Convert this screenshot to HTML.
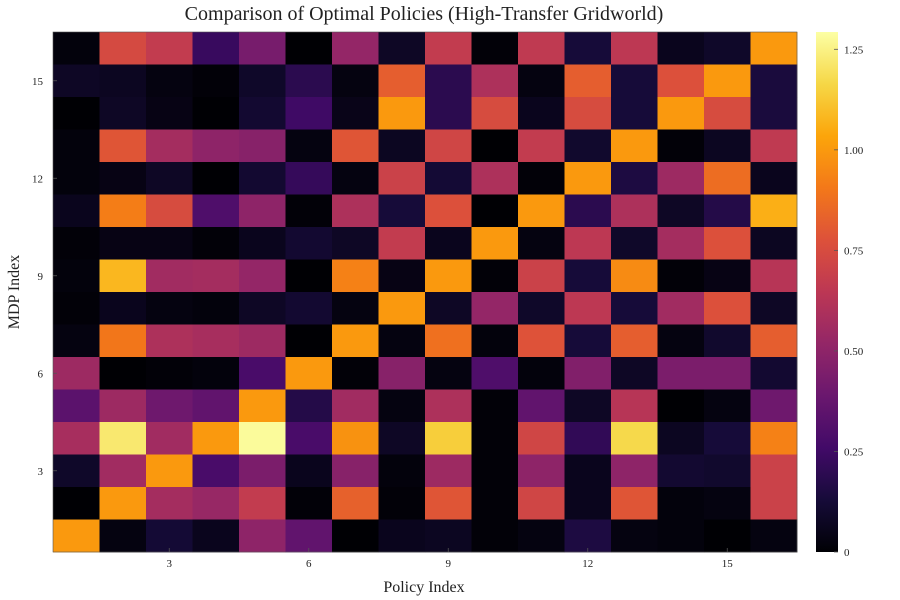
<!DOCTYPE html>
<html><head><meta charset="utf-8"><style>
html,body{margin:0;padding:0;background:#fff;}
svg{display:block;font-family:"Liberation Serif",serif;}
</style></head><body>
<svg id="chart" width="900" height="600" viewBox="0 0 900 600" xmlns="http://www.w3.org/2000/svg">
<defs><linearGradient id="cbg" x1="0" y1="1" x2="0" y2="0"></linearGradient></defs>
<text x="424" y="20" font-size="20" text-anchor="middle" fill="#222">Comparison of Optimal Policies (High-Transfer Gridworld)</text>
<text x="424" y="592" font-size="16" text-anchor="middle" fill="#222">Policy Index</text>
<text transform="translate(19,292) rotate(-90)" font-size="16" text-anchor="middle" fill="#222">MDP Index</text>
<g id="cells"></g>
<g id="axes"></g>
<g id="cbar"></g>
</svg>
<script>
// rows listed from MDP 16 (top) down to MDP 1 (bottom); columns = policy 1..16
const row16=[0.02,0.74,0.67,0.23,0.43,0.00,0.52,0.08,0.67,0.01,0.66,0.13,0.65,0.06,0.09,1.00];
const row15=[0.08,0.07,0.03,0.01,0.09,0.19,0.03,0.82,0.19,0.60,0.03,0.82,0.13,0.77,1.00,0.14];
const row14=[0.00,0.08,0.04,0.00,0.11,0.25,0.05,1.00,0.19,0.75,0.06,0.75,0.13,1.00,0.75,0.14];
const row13=[0.02,0.79,0.57,0.50,0.48,0.03,0.79,0.07,0.72,0.00,0.67,0.10,1.00,0.01,0.07,0.66];
const row12=[0.02,0.04,0.08,0.00,0.11,0.22,0.03,0.70,0.12,0.60,0.01,1.00,0.15,0.55,0.87,0.06];
const row11=[0.06,0.92,0.75,0.30,0.50,0.01,0.60,0.13,0.77,0.00,1.00,0.19,0.60,0.08,0.17,1.06];
const row10=[0.01,0.04,0.04,0.01,0.06,0.11,0.08,0.67,0.06,1.00,0.03,0.65,0.09,0.57,0.77,0.07];
const row9 =[0.02,1.08,0.56,0.57,0.52,0.00,0.93,0.04,1.00,0.01,0.70,0.13,0.96,0.01,0.04,0.63];
const row8 =[0.01,0.06,0.03,0.02,0.08,0.11,0.03,1.00,0.08,0.52,0.09,0.65,0.13,0.56,0.77,0.08];
const row7 =[0.03,0.90,0.60,0.58,0.55,0.00,1.00,0.03,0.88,0.02,0.78,0.13,0.82,0.03,0.10,0.82];
const row6 =[0.55,0.00,0.01,0.02,0.28,1.00,0.01,0.48,0.03,0.30,0.02,0.46,0.08,0.44,0.44,0.11];
const row5 =[0.34,0.55,0.40,0.36,1.00,0.17,0.56,0.03,0.60,0.01,0.36,0.08,0.63,0.00,0.03,0.40];
const row4 =[0.58,1.22,0.56,1.00,1.28,0.28,0.98,0.08,1.14,0.01,0.72,0.21,1.17,0.07,0.13,0.93];
const row3 =[0.09,0.56,1.00,0.28,0.44,0.06,0.48,0.02,0.55,0.01,0.50,0.06,0.50,0.11,0.10,0.70];
const row2 =[0.00,1.00,0.57,0.53,0.67,0.01,0.83,0.01,0.79,0.01,0.72,0.06,0.79,0.02,0.03,0.70];
const row1 =[1.00,0.03,0.12,0.06,0.50,0.36,0.00,0.06,0.07,0.01,0.03,0.15,0.03,0.02,0.00,0.03];
const rowsTopDown=[row16,row15,row14,row13,row12,row11,row10,row9,row8,row7,row6,row5,row4,row3,row2,row1];
const xTicks=[3,6,9,12,15];
const yTicks=[3,6,9,12,15];
const cbTicks=[0,0.25,0.5,0.75,1.0,1.25];
const cbLabels=["0","0.25","0.50","0.75","1.00","1.25"];

const NS="http://www.w3.org/2000/svg";
const PX0=53,PX1=797,PY0=32,PY1=552,N=16;
const CMIN=0,CMAX=1.293;
const cw=(PX1-PX0)/N,ch=(PY1-PY0)/N;
const xs=i=>PX0+(i-0.5)*cw;           // center of policy i
const ys=j=>PY1-(j-0.5)*ch;           // center of MDP j
const cy=v=>PY1-(v-CMIN)/(CMAX-CMIN)*(PY1-PY0);
const stops=["#000004","#160b39","#420a68","#6a176e","#932667","#bc3754","#dd513a","#f37819","#fca50a","#f6d746","#fcffa4"];
function hx(h){return [1,3,5].map(k=>parseInt(h.substr(k,2),16));}
function inferno(t){t=Math.max(0,Math.min(1,t));const p=t*10,i=Math.min(9,Math.floor(p)),f=p-i;
 const a=hx(stops[i]),b=hx(stops[i+1]);return "rgb("+a.map((c,k)=>Math.round(c+(b[k]-c)*f)).join(",")+")";}
function el(tag,attrs,parent){const e=document.createElementNS(NS,tag);for(const k in attrs)e.setAttribute(k,attrs[k]);parent.appendChild(e);return e;}

const cells=document.getElementById("cells");
rowsTopDown.forEach((row,r)=>{const mdp=N-r;row.forEach((v,c)=>{
 const e=el("rect",{x:(xs(c+1)-cw/2).toFixed(2),y:(ys(mdp)-ch/2).toFixed(2),width:(cw+0.4).toFixed(2),height:(ch+0.4).toFixed(2),fill:inferno((v-CMIN)/(CMAX-CMIN))},cells);
 
 
});});

const axes=document.getElementById("axes");
el("rect",{x:PX0,y:PY0,width:PX1-PX0,height:PY1-PY0,fill:"none",stroke:"#555","stroke-width":"0.6"},axes);
xTicks.forEach(t=>{
 el("line",{x1:xs(t),x2:xs(t),y1:PY1,y2:PY1-4,stroke:"#555","stroke-width":"0.8"},axes);
 const tx=el("text",{x:xs(t),y:567,"font-size":"11","text-anchor":"middle",fill:"#222"},axes);tx.textContent=t;
 
 
});
yTicks.forEach(t=>{
 el("line",{x1:PX0,x2:PX0+4,y1:ys(t),y2:ys(t),stroke:"#555","stroke-width":"0.8"},axes);
 const tx=el("text",{x:PX0-10,y:ys(t)+4,"font-size":"11","text-anchor":"end",fill:"#222"},axes);tx.textContent=t;
 
 
});

const grad=document.getElementById("cbg");
for(let k=0;k<=20;k++){el("stop",{offset:(k/20),"stop-color":inferno(k/20)},grad);}
const cb=document.getElementById("cbar");
const bar=el("rect",{x:816,y:PY0,width:22,height:PY1-PY0,fill:"url(#cbg)"},cb);


cbTicks.forEach((t,i)=>{
 el("line",{x1:834,x2:838,y1:cy(t),y2:cy(t),stroke:"#555","stroke-width":"0.8"},cb);
 const tx=el("text",{x:844,y:cy(t)+4,"font-size":"11",fill:"#222"},cb);tx.textContent=cbLabels[i];
 
 
});
</script>
</body></html>
